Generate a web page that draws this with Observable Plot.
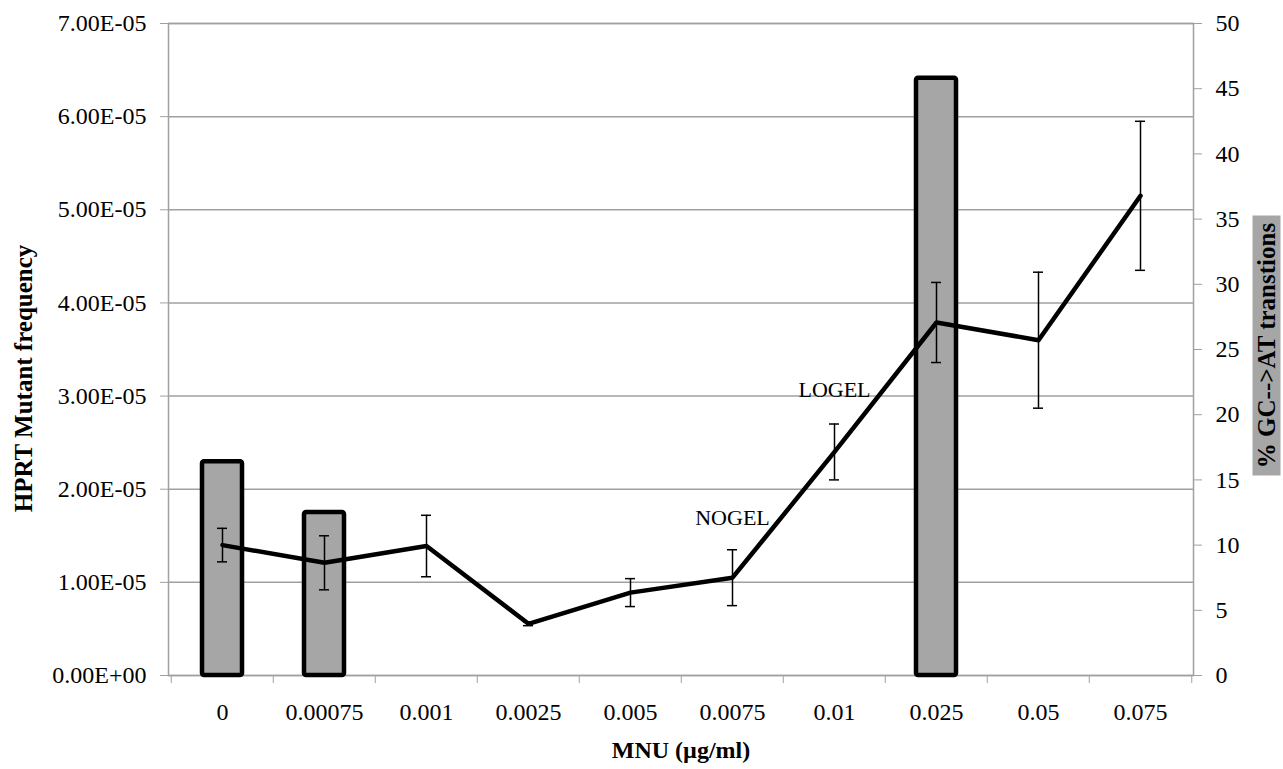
<!DOCTYPE html>
<html><head><meta charset="utf-8">
<script src="https://cdn.jsdelivr.net/npm/d3@7"></script>
<script src="https://cdn.jsdelivr.net/npm/@observablehq/plot@0.6"></script>
<style>
body{margin:0;background:#fff}
</style>
</head><body><div id="chart"></div>
<script>
const categories = ["0","0.00075","0.001","0.0025","0.005","0.0075","0.01","0.025","0.05","0.075"];
const mutantFreq = [1.40e-5, 1.21e-5, 1.39e-5, 0.555e-5, 0.89e-5, 1.05e-5, 2.40e-5, 3.79e-5, 3.60e-5, 5.15e-5];
const mutantErr  = [0.18e-5, 0.29e-5, 0.33e-5, 0.02e-5, 0.15e-5, 0.30e-5, 0.30e-5, 0.43e-5, 0.73e-5, 0.80e-5];
const gcatCategories = ["0","0.00075","0.025"];
const gcatPercent = [16.4, 12.5, 45.8];
const leftTicks = [0, 1e-5, 2e-5, 3e-5, 4e-5, 5e-5, 6e-5, 7e-5];
const rightTicks = [0, 5, 10, 15, 20, 25, 30, 35, 40, 45, 50];
const annotationLabels = ["NOGEL", "LOGEL"];
const annotationCats = ["0.0075", "0.01"];
const annotationVals = [1.69e-5, 3.07e-5];

const leftMax = 7e-5, rightMax = 50;
const k = leftMax / rightMax;
const rows = categories.map((c, i) => ({cat: c, v: mutantFreq[i], e: mutantErr[i]}));
const bars = gcatCategories.map((c, i) => ({cat: c, y: gcatPercent[i] * k}));
const notes = annotationLabels.map((t, i) => ({t, cat: annotationCats[i], v: annotationVals[i]}));
const fmtE = d => { const [m, e] = d.toExponential(2).split("e"); return m + "E" + e[0] + e.slice(1).padStart(2, "0"); };
const grey = "#a0a0a0";

const plot = Plot.plot({
  width: 1283, height: 769,
  marginLeft: 168, marginRight: 90, marginTop: 23, marginBottom: 94,
  style: {fontFamily: "Liberation Serif", background: "#fff", color: "#000"},
  x: {domain: categories, padding: 0},
  y: {domain: [0, leftMax]},
  marks: [
    Plot.gridY(leftTicks, {stroke: grey, strokeOpacity: 1, strokeWidth: 1.5}),
    Plot.frame({stroke: grey, strokeWidth: 1.5}),
    Plot.barY(bars, {x: "cat", y: "y", fill: "#a6a6a6", stroke: "#000", strokeWidth: 4.5, insetLeft: 31, insetRight: 31, rx: 2}),
    Plot.ruleX(rows, {x: "cat", y1: d => d.v - d.e, y2: d => d.v + d.e, stroke: "#000", strokeWidth: 1.5}),
    Plot.tickY(rows, {x: "cat", y: d => d.v - d.e, stroke: "#000", strokeWidth: 1.5, insetLeft: 46, insetRight: 46}),
    Plot.tickY(rows, {x: "cat", y: d => d.v + d.e, stroke: "#000", strokeWidth: 1.5, insetLeft: 46, insetRight: 46}),
    Plot.line(rows, {x: "cat", y: "v", stroke: "#000", strokeWidth: 4.5}),
    Plot.text(notes, {x: "cat", y: "v", text: "t", fontSize: 22, fill: "#000"}),
    Plot.axisY(leftTicks, {anchor: "left", tickFormat: fmtE, tickSize: 8, tickPadding: 14, stroke: grey, fill: "#000", fontSize: 24, label: null}),
    Plot.axisY(rightTicks.map(v => v * k), {anchor: "right", tickFormat: d => String(Math.round(d / k)), tickSize: 8, tickPadding: 14, stroke: grey, fill: "#000", fontSize: 24, label: null}),
    Plot.axisX(categories, {tickSize: 0, tickPadding: 27, fontSize: 24, fill: "#000", label: null}),
    Plot.axisX(categories, {tickSize: 8, tickFormat: () => "", dx: -51.25, stroke: grey, label: null}),
    Plot.axisX([categories[categories.length - 1]], {tickSize: 8, tickFormat: () => "", dx: 51.25, stroke: grey, label: null}),
    Plot.text(["HPRT Mutant frequency"], {frameAnchor: "left", textAnchor: "middle", rotate: -90, dx: -145, dy: 29, fontWeight: "bold", fontSize: 25, fill: "#000"}),
    Plot.text(["MNU (µg/ml)"], {frameAnchor: "bottom", textAnchor: "middle", dy: 82, fontWeight: "bold", fontSize: 24, fill: "#000"}),
    Plot.frame({fill: "#a6a6a6", stroke: null, insetLeft: 1084, insetRight: -87, insetTop: 192, insetBottom: 200}),
    Plot.text(["% GC-->AT transtions"], {frameAnchor: "right", textAnchor: "middle", rotate: -90, dx: 73, dy: -4, fontWeight: "bold", fontSize: 25, fill: "#000"})
  ]
});
document.getElementById("chart").appendChild(plot);
</script>
</body></html>
